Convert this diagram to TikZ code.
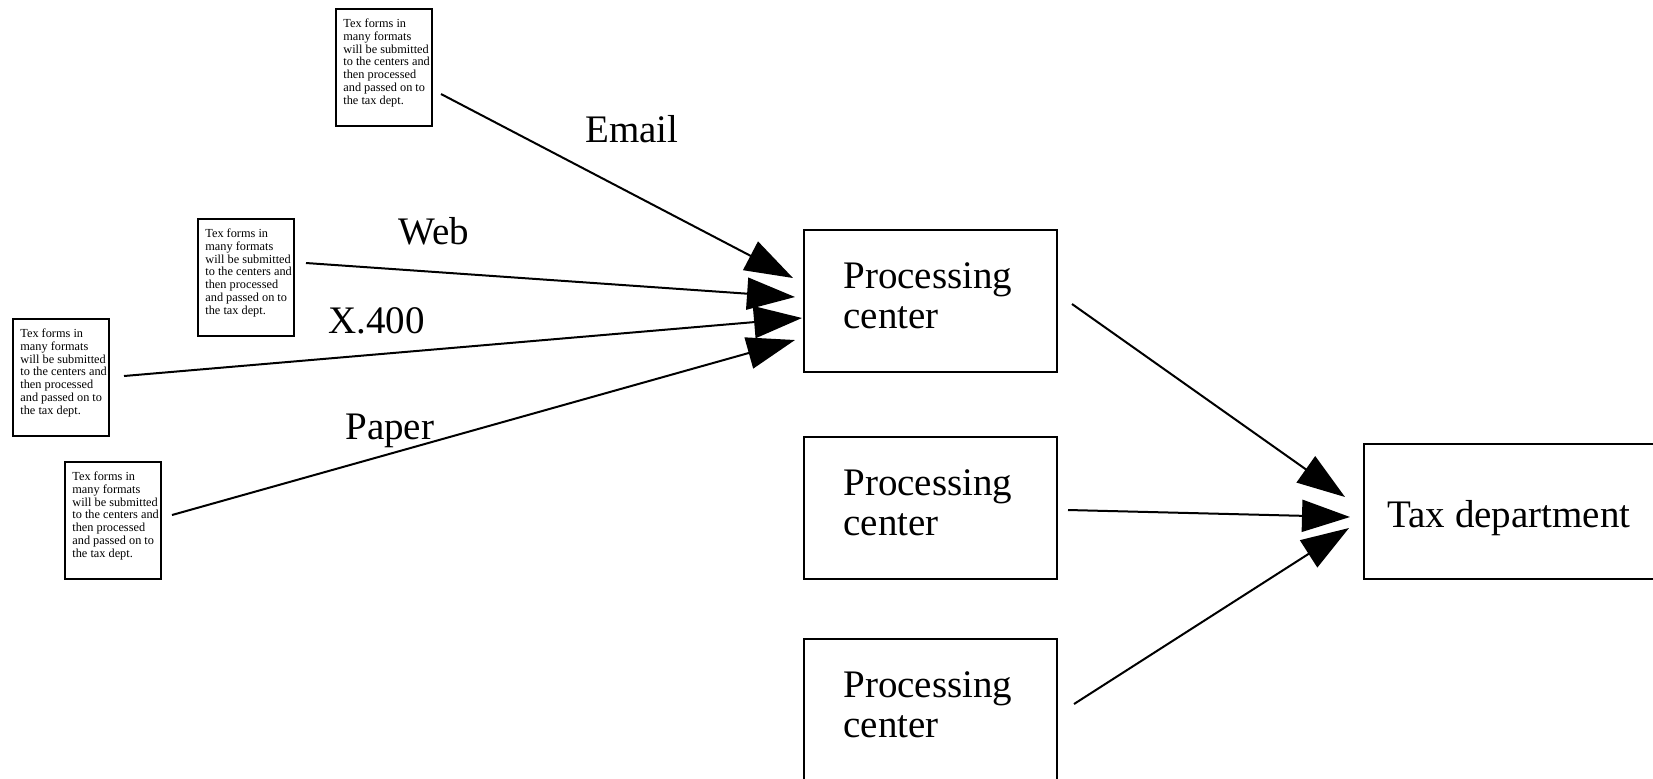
\documentclass[tikz,border=0pt]{standalone}
\usepackage{fontspec}
\setmainfont{Liberation Serif}
\usetikzlibrary{arrows.meta}
\begin{document}
\begin{tikzpicture}[x=0.5pt,y=-0.5pt,
  box/.style={draw, line width=1pt, anchor=north west, inner sep=0pt},
  formbox/.style={box, minimum width=48pt, minimum height=58.5pt},
  pcbox/.style={box, minimum width=126.5pt, minimum height=71pt},
  formtext/.style={anchor=base west, align=left, inner sep=0pt,
    font=\fontsize{6.15pt}{6.35pt}\selectfont},
  bigtext/.style={anchor=base west, align=left, inner sep=0pt,
    font=\fontsize{19.5pt}{20pt}\selectfont},
  conn/.style={line width=1pt, -{Triangle[length=24pt,width=16pt]}}]
\clip (0,0) rectangle (1653,778);

% tax form sheets (text anchored at the baseline of its last line)
\node[formbox] (f1) at (335,8) {};
\node[formbox] (f2) at (197,218) {};
\node[formbox] (f3) at (12,318) {};
\node[formbox] (f4) at (64,461) {};
\foreach \f in {f1,f2,f3,f4}
  \node[formtext] (\f t) at ([shift={(8,96)}]\f.north west)
    {Tex forms in\\many formats\\will be submitted\\to the centers and\\then processed\\and passed on to\\the tax dept.};

% processing centers
\node[pcbox] (pc1) at (803,229) {};
\node[pcbox] (pc2) at (803,436) {};
\node[pcbox] (pc3) at (803,638) {};
\foreach \p in {pc1,pc2,pc3}
  \node[bigtext] (\p t) at ([shift={(40,99)}]\p.north west) {Processing\\center};

% tax department
\node[box, minimum width=160pt, minimum height=67.5pt] (tax) at (1363,443) {};
\node[bigtext] (taxt) at ([shift={(24,84)}]tax.north west) {Tax department};

% channel labels
\node[bigtext] (lemail) at (585,142) {Email};
\node[bigtext] (lweb) at (398,244) {Web};
\node[bigtext] (lx) at (328,333) {X.400};
\node[bigtext] (lpaper) at (345,439) {Paper};

% submissions
\draw[conn] ([shift={(8,86)}]f1.north east) -- ([shift={(-10,49)}]pc1.north west);
\draw[conn] ([shift={(11,45)}]f2.north east) -- ([shift={(-8,68)}]pc1.north west);
\draw[conn] ([shift={(14,58)}]f3.north east) -- ([shift={(-1,89)}]pc1.north west);
\draw[conn] ([shift={(10,54)}]f4.north east) -- ([shift={(-8,111)}]pc1.north west);

% forwarding to the tax department
\draw[conn] ([shift={(14,75)}]pc1.north east) -- ([shift={(-18,54)}]tax.north west);
\draw[conn] ([shift={(10,74)}]pc2.north east) -- ([shift={(-13,74)}]tax.north west);
\draw[conn] ([shift={(16,66)}]pc3.north east) -- ([shift={(-14,85)}]tax.north west);
\end{tikzpicture}
\end{document}
